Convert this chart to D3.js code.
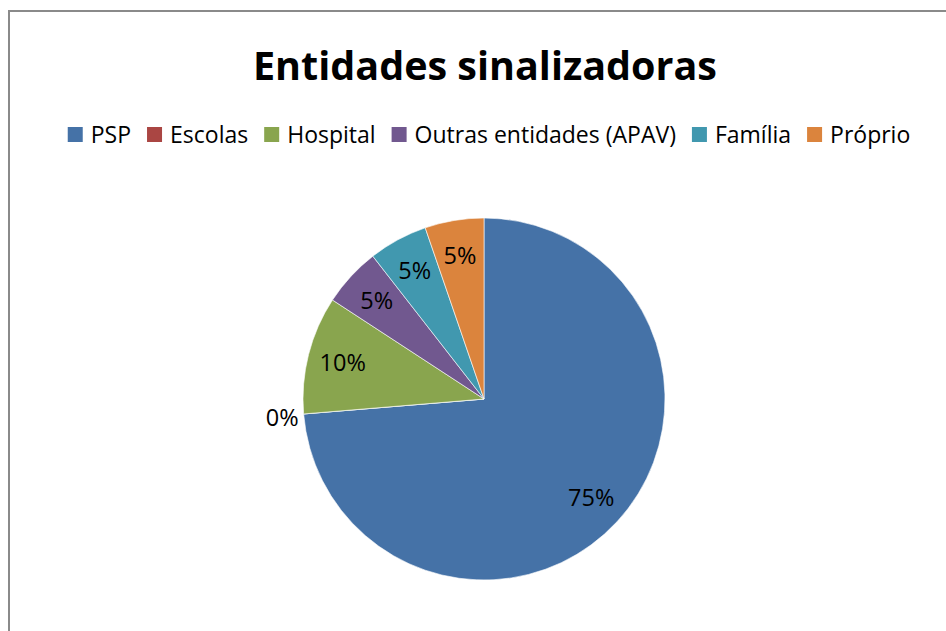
<!DOCTYPE html>
<html>
  <head>
    <meta charset="utf-8">
    <title>Entidades sinalizadoras</title>
    <script src="https://d3js.org/d3.v7.min.js"></script>
    <style>
      body { margin: 0; background: #fff; }
      text { font-family: "Open Sans", "DejaVu Sans", sans-serif; fill: #000; }
    </style>
  </head>
  <body>
  <div id="chart"></div>
  <script>
    var width = 946, height = 631;

    var categories = ['PSP', 'Escolas', 'Hospital', 'Outras entidades (APAV)', 'Família', 'Próprio'];
    var counts = [14, 0, 2, 1, 1, 1];
    var pctLabels = ['75%', '0%', '10%', '5%', '5%', '5%'];
    var colors = ['#4572A7', '#AA4643', '#89A54E', '#71588F', '#4198AF', '#DB843D'];

    var svg = d3.select('#chart').append('svg')
      .attr('width', width)
      .attr('height', height);

    // chart frame (runs off the right and bottom edges)
    svg.append('rect')
      .attr('x', 9).attr('y', 11)
      .attr('width', 960).attr('height', 640)
      .attr('fill', 'none')
      .attr('stroke', '#8a8a8a')
      .attr('stroke-width', 2);

    svg.append('text')
      .attr('x', 485).attr('y', 80)
      .attr('text-anchor', 'middle')
      .style('font-size', '39.5px')
      .style('font-weight', 'bold')
      .text('Entidades sinalizadoras');

    // legend
    var legend = svg.append('g').attr('class', 'legend');
    var items = legend.selectAll('g')
      .data(categories)
      .enter().append('g');
    items.append('rect')
      .attr('width', 15).attr('height', 15)
      .attr('y', -16)
      .attr('fill', function(d, i) { return colors[i]; });
    items.append('text')
      .attr('x', 23)
      .attr('y', 0)
      .style('font-size', '23px')
      .text(function(d) { return d; });
    var xpos = 0;
    items.each(function() {
      var w = d3.select(this).select('text').node().getComputedTextLength();
      d3.select(this).attr('transform', 'translate(' + xpos + ',0)');
      xpos += 23 + w + 16;
    });
    var total = xpos - 16;
    legend.attr('transform', 'translate(' + (489 - total / 2) + ',143)');

    // pie
    var cx = 484, cy = 399, r = 181;
    var pie = d3.pie().sort(null).value(function(d) { return d; });
    var arcs = pie(counts);
    var arc = d3.arc().innerRadius(0).outerRadius(r);
    var labelArc = d3.arc().innerRadius(r * 0.805).outerRadius(r * 0.805);

    var g = svg.append('g').attr('transform', 'translate(' + cx + ',' + cy + ')');
    g.selectAll('path')
      .data(arcs)
      .enter().append('path')
      .attr('d', arc)
      .attr('fill', function(d, i) { return colors[i]; })
      .attr('stroke', '#ffffff')
      .attr('stroke-width', 0.6);

    g.selectAll('text.lbl')
      .data(arcs)
      .enter().append('text')
      .attr('class', 'lbl')
      .style('font-size', '23.5px')
      .attr('text-anchor', function(d) { return d.value === 0 ? 'end' : 'middle'; })
      .attr('dy', '0.35em')
      .attr('transform', function(d) {
        if (d.value === 0) {
          var a = d.startAngle;
          return 'translate(' + (Math.sin(a) * (r + 5)) + ',' + (-Math.cos(a) * r + 4) + ')';
        }
        return 'translate(' + labelArc.centroid(d) + ')';
      })
      .text(function(d, i) { return pctLabels[i]; });
  </script>
  </body>
</html>
